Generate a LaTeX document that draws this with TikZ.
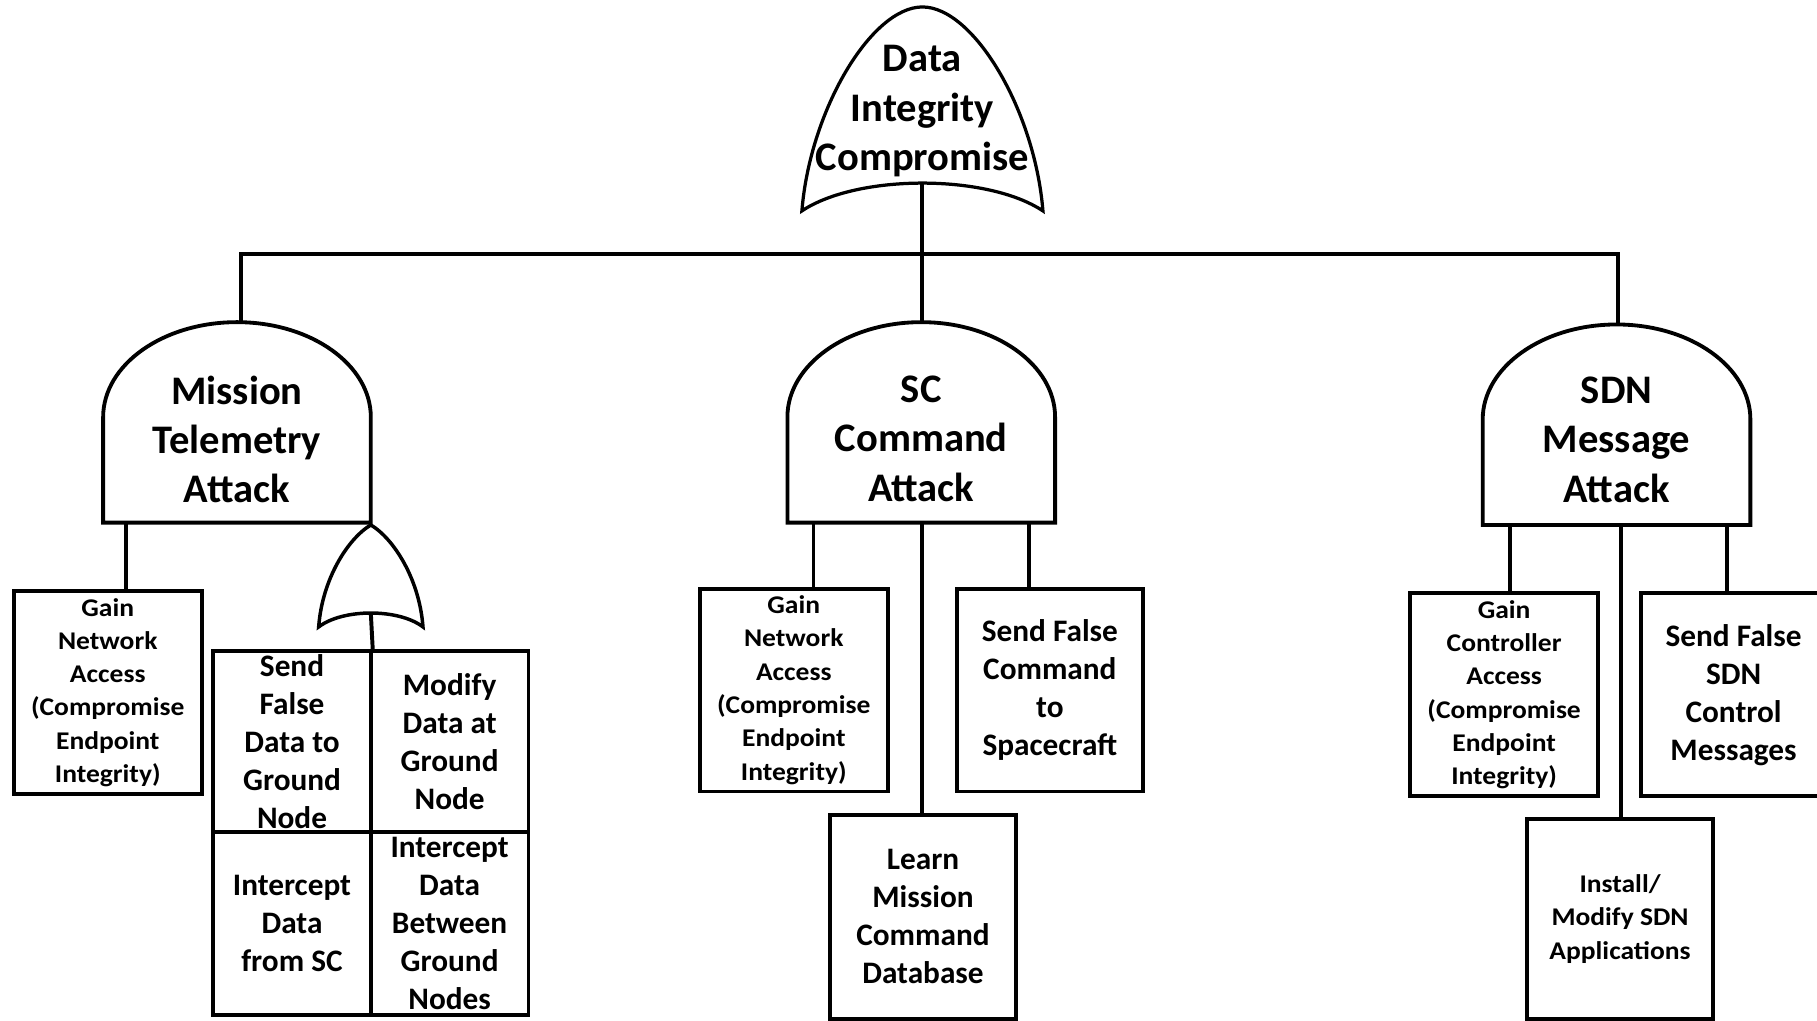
\documentclass[tikz,border=0pt]{standalone}
\usepackage{fontspec}
\setmainfont{Carlito}
\newfontfamily\smallfam[FakeStretch=1.08]{Carlito}
\newcommand\bigtxt{\bfseries\fontsize{35}{42.5}\selectfont}
\newcommand\midtxt{\bfseries\fontsize{27}{32.8}\selectfont}
\newcommand\smalltxt{\smallfam\bfseries\fontsize{22}{28.7}\selectfont}
% AND gate: #1 centre x, #2 half width, #3 top y, #4 bottom y, #5 dome height
\newcommand\andgateshape[5]{%
  \draw[gate] ({#1-#2},#4) -- ({#1-#2},{#3+#5})
    .. controls ({#1-#2},{#3+0.4477*#5}) and ({#1-0.5523*#2},#3) .. (#1,#3)
    .. controls ({#1+0.5523*#2},#3) and ({#1+#2},{#3+0.4477*#5}) .. ({#1+#2},{#3+#5})
    -- ({#1+#2},#4) -- cycle;}
\tikzset{
  gate/.style={draw=black, line width=3.3pt, fill=white, line join=miter},
  orgate/.style={gate, line width=3pt},
  conn/.style={draw=black, line width=3.4pt},
  gtext/.style={inner sep=0pt, align=center, font=\bigtxt},
  box/.style={draw=black, line width=3.3pt, fill=white, inner sep=0pt, align=center},
  midbox/.style={box, font=\midtxt},
  smallbox/.style={box, font=\smalltxt},
}
\begin{document}
\begin{tikzpicture}[x=1pt,y=-1pt]
\useasboundingbox[fill=white] (0,0) rectangle (1568,881);

% ---- top OR gate
\coordinate (dicout) at (796,158);
\coordinate (hub) at (796,219);
\coordinate (hubL) at (208,219);
\coordinate (hubR) at (1396,219);
\draw[conn] (dicout) -- (hub);
\draw[conn, line cap=rect] (hubL) -- (hubR);
\draw[orgate, line width=2.8pt] (692,182) .. controls (699,95) and (752,6) .. (796,6)
  .. controls (840,6) and (893,95) .. (900,182)
  .. controls (852,150) and (740,150) .. (692,182) -- cycle;
\node[gtext] (dic) at (796,96) {Data\\Integrity\\Compromise};

% ---- gate tops
\coordinate (mtatop) at (208,278);
\coordinate (sctop) at (796,278);
\coordinate (sdntop) at (1396,280);
\draw[conn] (hubL) -- (mtatop);
\draw[conn] (hub) -- (sctop);
\draw[conn] (hubR) -- (sdntop);

% ---- Mission Telemetry Attack
\coordinate (mtab1) at (109,451);
\node[smallbox, minimum width=162pt, minimum height=175pt] (mgna) at (93,597.5)
  {Gain\\Network\\Access\\(Compromise\\Endpoint\\Integrity)};
\draw[conn] (mtab1) -- (mgna.north -| mtab1);
\andgateshape{204.5}{115.5}{278}{451}{82}
\node[gtext] (mta) at (204.5,379) {Mission\\Telemetry\\Attack};

% small OR gate
\node[midbox, minimum width=136pt, minimum height=156pt] (sfd) at (252,640)
  {Send\\False\\Data to\\Ground\\Node};
\node[midbox, minimum width=136pt, minimum height=156pt] (mdg) at (388,640)
  {Modify\\Data at\\Ground\\Node};
\node[midbox, minimum width=136pt, minimum height=158pt] (ids) at (252,797)
  {Intercept\\Data\\from SC};
\node[midbox, minimum width=136pt, minimum height=158pt] (idb) at (388,797)
  {Intercept\\Data\\Between\\Ground\\Nodes};
\coordinate (orout) at (320,529);
\draw[conn] (orout) -- (sfd.north east);
\draw[orgate] (275,541) .. controls (278,500) and (300,465) .. (320,453)
  .. controls (340,465) and (362,500) .. (365,541)
  .. controls (344,525) and (296,525) .. (275,541) -- cycle;

% ---- SC Command Attack
\coordinate (scb1) at (702,451);
\coordinate (scb2) at (796,451);
\coordinate (scb3) at (888,451);
\node[smallbox, minimum width=162pt, minimum height=175pt] (scg) at (685,595.5)
  {Gain\\Network\\Access\\(Compromise\\Endpoint\\Integrity)};
\node[midbox, minimum width=160pt, minimum height=175pt] (scf) at (906,595.5)
  {Send False\\Command\\to\\Spacecraft};
\node[midbox, minimum width=161pt, minimum height=176pt] (scl) at (796.5,791)
  {Learn\\Mission\\Command\\Database};
\draw[conn] (scb1) -- (scg.north -| scb1);
\draw[conn] (scb2) -- (scl.north -| scb2);
\draw[conn] (scb3) -- (scf.north -| scb3);
\andgateshape{795}{115.5}{278}{451}{82}
\node[gtext] (sca) at (795,378.5) {SC\\Command\\Attack};

% ---- SDN Message Attack
\coordinate (sdb1) at (1303,453);
\coordinate (sdb2) at (1399,453);
\coordinate (sdb3) at (1490,453);
\node[smallbox, minimum width=162pt, minimum height=175pt] (sdg) at (1298,599.5)
  {Gain\\Controller\\Access\\(Compromise\\Endpoint\\Integrity)};
\node[midbox, minimum width=160pt, minimum height=175pt] (sdf) at (1496,599.5)
  {Send False\\SDN\\Control\\Messages};
\node[smallbox, minimum width=160pt, minimum height=172pt] (sdi) at (1398,793)
  {Install/\\Modify SDN\\Applications};
\draw[conn] (sdb1) -- (sdg.north -| sdb1);
\draw[conn] (sdb2) -- (sdi.north -| sdb2);
\draw[conn] (sdb3) -- (sdf.north -| sdb3);
\andgateshape{1395}{115.5}{280}{453}{82}
\node[gtext] (sda) at (1395,379.5) {SDN\\Message\\Attack};
\end{tikzpicture}
\end{document}
